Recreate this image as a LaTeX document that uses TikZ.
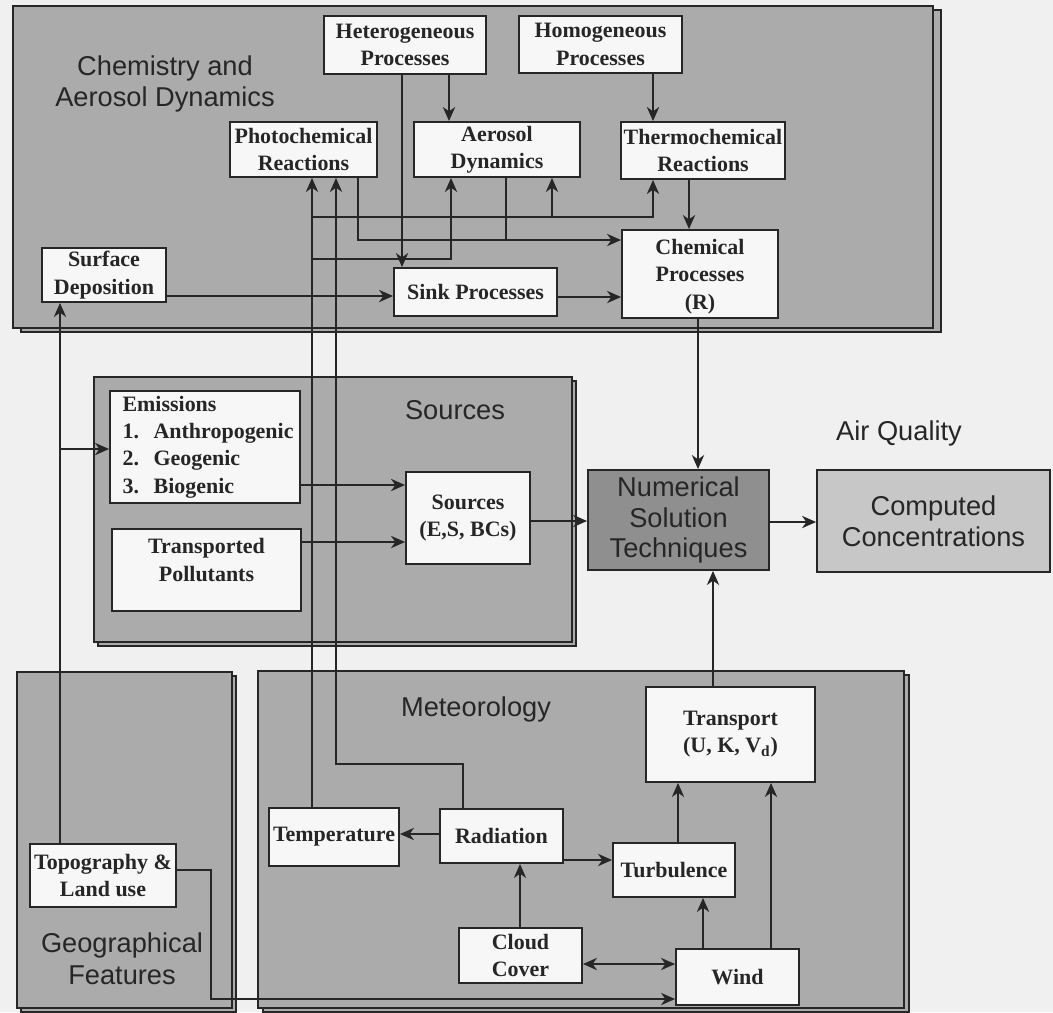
\documentclass[tikz,border=0pt]{standalone}
\usepackage{fontspec}
\setmainfont{Liberation Serif}
\setsansfont{Liberation Sans}
\usetikzlibrary{arrows.meta}

\newcommand*{\picw}{1053}
\newcommand*{\pich}{1012}

\definecolor{bggray}{gray}{0.94}
\definecolor{panelgray}{gray}{0.67}
\definecolor{boxwhite}{gray}{0.97}
\definecolor{numgray}{gray}{0.56}
\definecolor{compgray}{gray}{0.78}
\definecolor{inkgray}{gray}{0.15}

\begin{document}
\begin{tikzpicture}
[
	x=0.02cm, y=-0.02cm,
	panel/.style={draw=inkgray,fill=panelgray,line width=1.1pt},
	box/.style={draw=inkgray,fill=boxwhite,line width=1.1pt,align=center,inner sep=1pt,text=inkgray,font=\bfseries\fontsize{12.5}{15.5}\selectfont},
	bigbox/.style={draw=inkgray,line width=1.1pt,align=center,inner sep=1pt,text=inkgray,font=\sffamily\fontsize{15.5}{17.5}\selectfont},
	title/.style={text=inkgray,align=center,font=\sffamily\fontsize{15.5}{18}\selectfont},
	arr/.style={draw=inkgray,line width=0.9pt,-{Stealth[length=8pt,width=7pt,inset=2.5pt]}},
	dblarr/.style={draw=inkgray,line width=0.9pt,{Stealth[length=8pt,width=7pt,inset=2.5pt]}-{Stealth[length=8pt,width=7pt,inset=2.5pt]}},
	wire/.style={draw=inkgray,line width=0.9pt}
]

	% page
	\useasboundingbox (0,0) rectangle (\picw,\pich);
	\fill[bggray] (0,0) rectangle (\picw,\pich);

	% panels (shadow first)
	\draw[panel] (21,10) rectangle (941,332);
	\draw[panel] (13,6) rectangle (933,328);
	\draw[panel] (98,381) rectangle (576,646);
	\draw[panel] (94,377) rectangle (572,642);
	\draw[panel] (21,676) rectangle (236,1012);
	\draw[panel] (17,672) rectangle (232,1008);
	\draw[panel] (263,675) rectangle (909,1012);
	\draw[panel] (258,671) rectangle (904,1008);

	% panel titles
	\node[title] (chemlbl) at (165,84) {Chemistry and\\Aerosol Dynamics};
	\node[title] (srclbl) at (455,410) {Sources};
	\node[title] (aqlbl) at (899,433) {Air Quality};
	\node[title] (metlbl) at (476,709) {Meteorology};
	\node[title] (geolbl) at (122,959) {Geographical\\Features};

	% chemistry
	\node[box,minimum width=3.24cm,minimum height=1.16cm] (het) at (405,45) {Heterogeneous\\Processes};
	\node[box,minimum width=3.26cm,minimum height=1.14cm] (hom) at (600.5,44.5) {Homogeneous\\Processes};
	\node[box,minimum width=2.94cm,minimum height=1.1cm] (photo) at (303.5,149.5) {Photochemical\\Reactions};
	\node[box,minimum width=3.32cm,minimum height=1.1cm] (aero) at (497,149.5) {Aerosol\\Dynamics};
	\node[box,minimum width=3.28cm,minimum height=1.14cm] (thermo) at (703,150.5) {Thermochemical\\Reactions};
	\node[box,minimum width=2.48cm,minimum height=1.08cm] (surf) at (104,275) {Surface\\Deposition};
	\node[box,minimum width=3.26cm,minimum height=0.96cm] (sink) at (475.5,292) {Sink Processes};
	\node[box,minimum width=3.12cm,minimum height=1.76cm] (chem) at (700,274) {\mbox{}\\[-4pt]Chemical\\Processes\\(R)};

	% sources
	\node[box,align=left,text width=3.3cm,inner xsep=0.25cm,minimum height=2.24cm] (emis) at (205,447) {Emissions\\\mbox{1.\ \ Anthropogenic}\\\mbox{2.\ \ Geogenic}\\\mbox{3.\ \ Biogenic}};
	\node[box,minimum width=3.78cm,minimum height=1.64cm] (transp) at (206.5,570) {Transported\\Pollutants\\[-4pt]\mbox{}};
	\node[box,minimum width=2.48cm,minimum height=1.84cm] (srcs) at (468,518) {Sources\\(E,S, BCs)};

	% solver and output
	\node[bigbox,fill=numgray,minimum width=3.62cm,minimum height=2cm] (num) at (678.5,520) {Numerical\\Solution\\Techniques};
	\node[bigbox,fill=compgray,minimum width=4.66cm,minimum height=2.04cm] (comp) at (933.5,521) {Computed\\Concentrations};

	% geography and meteorology
	\node[box,minimum width=2.92cm,minimum height=1.26cm] (topo) at (103,875.5) {Topography \&\\Land use};
	\node[box,minimum width=2.6cm,minimum height=1.16cm] (temp) at (334,837) {Temperature};
	\node[box,minimum width=2.46cm,minimum height=1.08cm] (rad) at (501.5,836) {Radiation};
	\node[box,minimum width=2.46cm,minimum height=1.1cm] (cloud) at (520.5,955.5) {Cloud\\Cover};
	\node[box,minimum width=3.38cm,minimum height=1.9cm] (transport) at (730.5,734.5) {Transport\\(U, K, V\textsubscript{d})};
	\node[box,minimum width=2.44cm,minimum height=1.08cm] (turb) at (674,870) {Turbulence};
	\node[box,minimum width=2.46cm,minimum height=1.12cm] (wind) at (737.5,977) {Wind};

	% chemistry links
	\draw[arr] (het.south -| 449,0) -- (aero.north -| 449,0);
	\draw[arr] (het.south -| 402,0) -- (sink.north -| 402,0);
	\draw[arr] (hom.south -| 653,0) -- (thermo.north -| 653,0);
	\draw[arr] (thermo.south -| 689,0) -- (chem.north -| 689,0);
	\draw[arr] (photo.south -| 358,0) |- (chem.west |- 0,240);
	\draw[wire] (aero.south -| 506,0) -- (506,240);
	\draw[arr] (surf.east |- 0,296) -- (sink.west |- 0,296);
	\draw[arr] (sink.east |- 0,297) -- (chem.west |- 0,297);

	% temperature and radiation up into chemistry
	\draw[arr] (temp.north -| 312,0) -- (photo.south -| 312,0);
	\draw[arr] (312,217) -| (thermo.south -| 653,0);
	\draw[arr] (552,217) -- (aero.south -| 552,0);
	\draw[arr] (312,259) -| (aero.south -| 451,0);
	\draw[arr] (rad.north -| 463,0) |- (336,764) -- (photo.south -| 336,0);

	% geography
	\draw[arr] (topo.north -| 60,0) -- (surf.south -| 60,0);
	\draw[arr] (60,449) -- (emis.west |- 0,449);
	\draw[arr] (topo.east |- 0,870) -| (211,999) -- (wind.west |- 0,999);

	% sources and solver
	\draw[arr] (emis.east |- 0,485) -- (srcs.west |- 0,485);
	\draw[arr] (transp.east |- 0,542) -- (srcs.west |- 0,542);
	\draw[arr] (srcs.east |- 0,521) -- (num.west |- 0,521);
	\draw[arr] (chem.south -| 698,0) -- (num.north -| 698,0);
	\draw[arr] (num.east |- 0,522) -- (comp.west |- 0,522);
	\draw[arr] (transport.north -| 713,0) -- (num.south -| 713,0);

	% meteorology
	\draw[arr] (rad.west |- 0,834) -- (temp.east |- 0,834);
	\draw[arr] (rad.east |- 0,860) -- (turb.west |- 0,860);
	\draw[arr] (cloud.north -| 520,0) -- (rad.south -| 520,0);
	\draw[arr] (turb.north -| 678,0) -- (transport.south -| 678,0);
	\draw[arr] (wind.north -| 703,0) -- (turb.south -| 703,0);
	\draw[arr] (wind.north -| 771,0) -- (transport.south -| 771,0);
	\draw[dblarr] (cloud.east |- 0,964) -- (wind.west |- 0,964);

\end{tikzpicture}
\end{document}
